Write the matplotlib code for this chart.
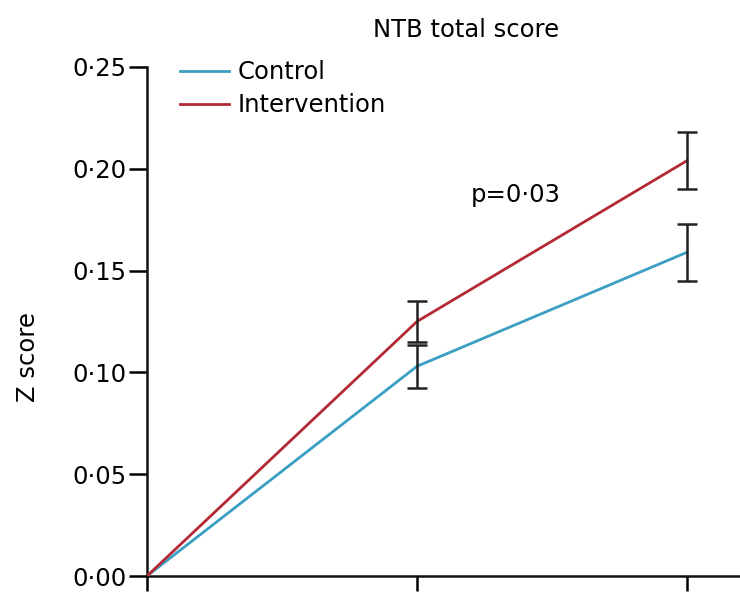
import matplotlib
matplotlib.use("Agg")
import matplotlib.pyplot as plt

# visits (baseline, 12 months, 24 months) -- no tick labels on the original
visits = [0, 1, 2]
control = [0.0, 0.103, 0.159]
control_err = [0.0, 0.0105, 0.014]
intervention = [0.0, 0.125, 0.204]
intervention_err = [0.0, 0.010, 0.014]
y_ticks = [0.00, 0.05, 0.10, 0.15, 0.20, 0.25]
y_labels = ["0·00", "0·05", "0·10", "0·15", "0·20", "0·25"]

CONTROL_C = "#3a9fc3"
INTERV_C = "#b32a35"
FS = 17.5

plt.rcParams["font.family"] = ["DejaVu Sans"]

fig = plt.figure(figsize=(7.4, 5.93), dpi=100)
ax = fig.add_axes([147 / 740, 1 - 576 / 593, 1 - 147 / 740, (576 - 67) / 593])

ax.plot(visits, control, color=CONTROL_C, lw=2, label="Control", zorder=3)
ax.plot(visits, intervention, color=INTERV_C, lw=2, label="Intervention", zorder=3)
ax.errorbar(visits[1:], control[1:], yerr=control_err[1:], fmt="none",
            ecolor="#222222", elinewidth=1.8, capsize=7, capthick=1.8, zorder=4)
ax.errorbar(visits[1:], intervention[1:], yerr=intervention_err[1:], fmt="none",
            ecolor="#222222", elinewidth=1.8, capsize=7, capthick=1.8, zorder=4)

ax.set_xlim(0, (740 - 147) / 270)
ax.set_ylim(0, 0.25)
ax.set_xticks(visits)
ax.set_xticklabels([])
ax.set_yticks(y_ticks)
ax.set_yticklabels(y_labels, fontsize=FS)
ax.tick_params(axis="x", length=11, width=1.8, direction="out")
ax.tick_params(axis="y", length=13, width=1.8, direction="out", pad=2)
for s in ("top", "right"):
    ax.spines[s].set_visible(False)
for s in ("left", "bottom"):
    ax.spines[s].set_linewidth(1.8)
    ax.spines[s].set_color("#111111")

ax.text(1.365, 0.187, "p=0·03", fontsize=FS, ha="center", va="center")
fig.text(466 / 740, 1 - 30 / 593, "NTB total score", fontsize=FS, ha="center", va="center")
fig.text(28 / 740, 1 - 357 / 593, "Z score", fontsize=FS, rotation=90, ha="center", va="center")

ax.legend(loc="upper left", bbox_to_anchor=(168 / 740, 1 - 48 / 593),
          bbox_transform=fig.transFigure, frameon=False, fontsize=FS,
          handlelength=2.0, handletextpad=0.35, labelspacing=0.38, borderpad=0)

fig.savefig("out.png", dpi=100)
